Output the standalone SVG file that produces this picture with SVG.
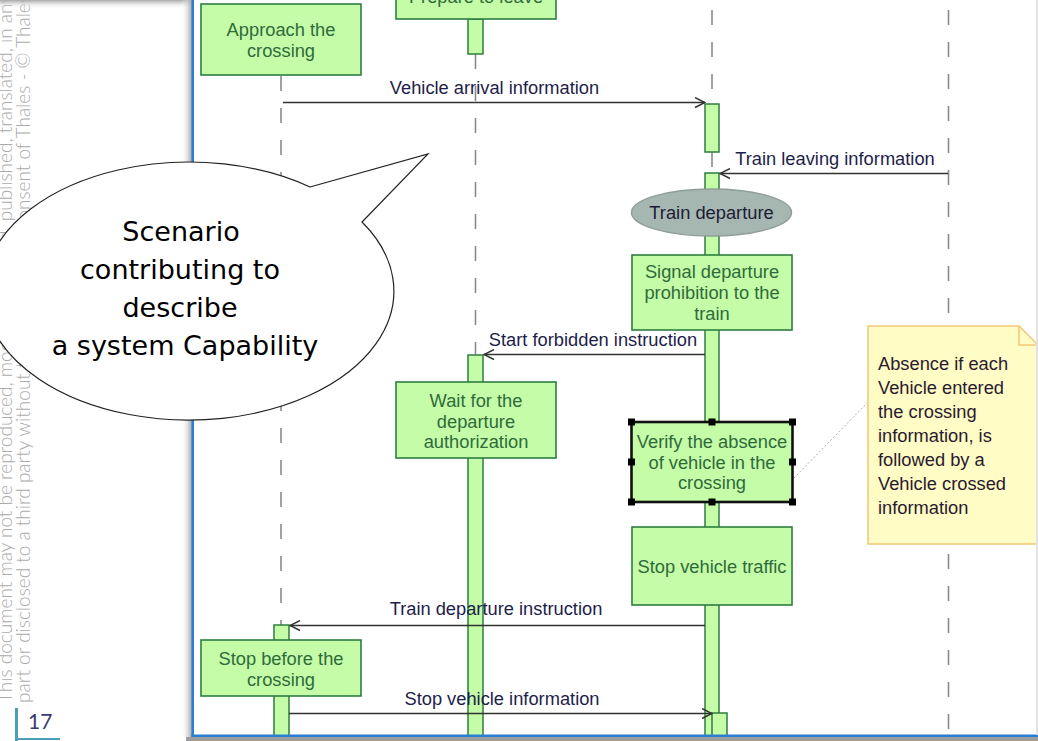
<svg xmlns="http://www.w3.org/2000/svg" width="1038" height="741" viewBox="0 0 1038 741">
<defs>
<style>
.wm{font-family:'Lato','Liberation Sans',sans-serif;font-weight:300;font-size:19px;fill:#ababab}
.nbox{fill:#c4fca8;stroke:#2e7d40;stroke-width:1.6}
.exec{fill:#c4fca8;stroke:#2e7d40;stroke-width:1.5}
.ntxt{font-family:'Liberation Sans','Noto Sans',sans-serif;font-size:18.3px;fill:#2f6b3a;text-anchor:middle}
.msg{stroke:#333;stroke-width:1.5;fill:none;marker-end:url(#arr)}
.mlbl{font-family:'Liberation Sans','Noto Sans',sans-serif;font-size:18.3px;fill:#1e1e4a;text-anchor:middle}
.life{stroke:#8a8a8a;stroke-width:1.6;stroke-dasharray:15 17;fill:none}
.handle{fill:#000}
.notetxt{font-family:'Liberation Sans','Noto Sans',sans-serif;font-size:18.3px;fill:#2a1a2e}
.bub{font-family:'Segoe Print','Comic Sans MS','DejaVu Sans',cursive;font-size:27px;fill:#000;text-anchor:middle}
</style>
<marker id="arr" markerWidth="12" markerHeight="12" refX="11" refY="6" orient="auto" markerUnits="userSpaceOnUse">
<path d="M1,1 L11,6 L1,11" fill="none" stroke="#333" stroke-width="1.4"/>
</marker>
<clipPath id="win"><rect x="194" y="0" width="842" height="735"/></clipPath>
<linearGradient id="topShade" x1="0" y1="0" x2="0" y2="1">
<stop offset="0" stop-color="#a8a8a8"/><stop offset="1" stop-color="#ffffff" stop-opacity="0"/>
</linearGradient>
<linearGradient id="leftShade" x1="0" y1="0" x2="1" y2="0">
<stop offset="0" stop-color="#ffffff" stop-opacity="0"/><stop offset="1" stop-color="#a4a4a4"/>
</linearGradient>
</defs>

<rect x="0" y="0" width="1038" height="741" fill="#ffffff"/>

<g id="watermark">
<text class="wm" transform="rotate(-90)" x="-703" y="12">This document may not be reproduced, modified, adapted, published, translated, in any way, in whole or in</text>
<text class="wm" transform="rotate(-90)" x="-703" y="30">part or disclosed to a third party without the prior written consent of Thales - © Thales 2015 All rights reserved.</text>
</g>

<g id="page-number">
<rect x="15" y="708" width="3" height="33" fill="#4a9fb5"/>
<rect x="15" y="738" width="45" height="2" fill="#4a9fb5"/>
<text x="28" y="729" font-family="'Lato','Liberation Sans',sans-serif" font-size="21" fill="#3a3a6e">17</text>
</g>

<g id="window-frame-shadow">
<rect x="0" y="0" width="620" height="9" fill="url(#topShade)"/>
<rect x="181" y="0" width="11" height="737" fill="url(#leftShade)"/>
<rect x="186" y="737" width="852" height="4" fill="#9c9c9c"/>
</g>

<g id="diagram" clip-path="url(#win)">
<rect x="194" y="0" width="842" height="735" fill="#ffffff"/>

<g id="lifelines">
<line class="life" x1="281" y1="76" x2="281" y2="625"/>
<line class="life" x1="475.5" y1="54" x2="475.5" y2="355"/>
<line class="life" x1="712" y1="10" x2="712" y2="104"/>
<line class="life" x1="712" y1="152" x2="712" y2="173"/>
<line class="life" x1="948.5" y1="10" x2="948.5" y2="735"/>
</g>

<g id="executions">
<rect class="exec" x="468" y="19" width="15" height="35"/>
<rect class="exec" x="705" y="104" width="14" height="48"/>
<rect class="exec" x="705" y="173" width="14" height="580"/>
<rect class="exec" x="468" y="355" width="15" height="400"/>
<rect class="exec" x="274" y="625" width="15" height="130"/>
<rect class="exec" x="712" y="713" width="15" height="40"/>
</g>

<g id="node-prepare">
<rect class="nbox" x="396" y="-40" width="160" height="59"/>
<text class="ntxt" x="476" y="3">Prepare to leave</text>
</g>

<g id="node-approach">
<rect class="nbox" x="201" y="4" width="160" height="71"/>
<text class="ntxt" x="281" y="36">Approach the</text>
<text class="ntxt" x="281" y="57">crossing</text>
</g>

<g id="node-train-departure">
<ellipse cx="711.5" cy="212.5" rx="80" ry="23.5" fill="#a6b6b1" stroke="#8e9e99" stroke-width="1.5"/>
<text x="711.5" y="219" font-family="'Liberation Sans','Noto Sans',sans-serif" font-size="18.3" fill="#1c1c34" text-anchor="middle">Train departure</text>
</g>

<g id="node-signal">
<rect class="nbox" x="632" y="255" width="160" height="75"/>
<text class="ntxt" x="712" y="278">Signal departure</text>
<text class="ntxt" x="712" y="299">prohibition to the</text>
<text class="ntxt" x="712" y="320">train</text>
</g>

<g id="node-wait">
<rect class="nbox" x="396" y="382" width="160" height="76"/>
<text class="ntxt" x="476" y="407">Wait for the</text>
<text class="ntxt" x="476" y="428">departure</text>
<text class="ntxt" x="476" y="448">authorization</text>
</g>

<g id="node-verify">
<rect x="631.5" y="422" width="161" height="80" fill="#c4fca8" stroke="#111" stroke-width="2.6"/>
<text class="ntxt" x="712" y="448">Verify the absence</text>
<text class="ntxt" x="712" y="469">of vehicle in the</text>
<text class="ntxt" x="712" y="489">crossing</text>
<rect class="handle" x="628" y="418.5" width="7" height="7"/>
<rect class="handle" x="708.5" y="418.5" width="7" height="7"/>
<rect class="handle" x="789" y="418.5" width="7" height="7"/>
<rect class="handle" x="628" y="458.5" width="7" height="7"/>
<rect class="handle" x="789" y="458.5" width="7" height="7"/>
<rect class="handle" x="628" y="498.5" width="7" height="7"/>
<rect class="handle" x="708.5" y="498.5" width="7" height="7"/>
<rect class="handle" x="789" y="498.5" width="7" height="7"/>
</g>

<g id="node-stop-traffic">
<rect class="nbox" x="632" y="527" width="160" height="78"/>
<text class="ntxt" x="712" y="573">Stop vehicle traffic</text>
</g>

<g id="node-stop-before">
<rect class="nbox" x="201" y="640" width="160" height="56"/>
<text class="ntxt" x="281" y="665">Stop before the</text>
<text class="ntxt" x="281" y="686">crossing</text>
</g>

<g id="connectors">
<path class="msg" d="M283,102.5 H705"/>
<text class="mlbl" x="494.5" y="94">Vehicle arrival information</text>
<path class="msg" d="M948,173.5 H720"/>
<text class="mlbl" x="835" y="165">Train leaving information</text>
<path class="msg" d="M705,354.5 H484"/>
<text class="mlbl" x="593" y="346">Start forbidden instruction</text>
<path class="msg" d="M705,625.5 H290"/>
<text class="mlbl" x="496" y="615">Train departure instruction</text>
<path class="msg" d="M289,713.5 H712"/>
<text class="mlbl" x="502" y="705">Stop vehicle information</text>
<line x1="794" y1="478" x2="868" y2="402" stroke="#b0b0b0" stroke-width="1" stroke-dasharray="2 2"/>
</g>

<g id="note">
<path d="M868,326 H1019 L1038,345 V544 H868 Z" fill="#fffcc6" stroke="#f4c777" stroke-width="1.5"/>
<path d="M1019,326 V345 H1038" fill="none" stroke="#f4c777" stroke-width="1.5"/>
<text class="notetxt" x="878" y="370">Absence if each</text>
<text class="notetxt" x="878" y="394">Vehicle entered</text>
<text class="notetxt" x="878" y="418">the crossing</text>
<text class="notetxt" x="878" y="442">information, is</text>
<text class="notetxt" x="878" y="466">followed by a</text>
<text class="notetxt" x="878" y="490">Vehicle crossed</text>
<text class="notetxt" x="878" y="514">information</text>
</g>
</g>

<g id="window-border">
<rect x="191.5" y="0" width="2.5" height="737" fill="#2a7fd4"/>
<rect x="191.5" y="734.5" width="846.5" height="2.5" fill="#2a7fd4"/>
<rect x="1036" y="0" width="2" height="735" fill="#e2e2e2"/>
</g>

<g id="bubble">
<path d="M310,187 L428,154 L362,222 A205,129 0 1 1 310,187 Z" fill="#ffffff" stroke="#222" stroke-width="1.2"/>
<text class="bub" x="181" y="241">Scenario</text>
<text class="bub" x="180" y="279">contributing to</text>
<text class="bub" x="180" y="317">describe</text>
<text class="bub" x="185" y="355">a system Capability</text>
</g>
</svg>
